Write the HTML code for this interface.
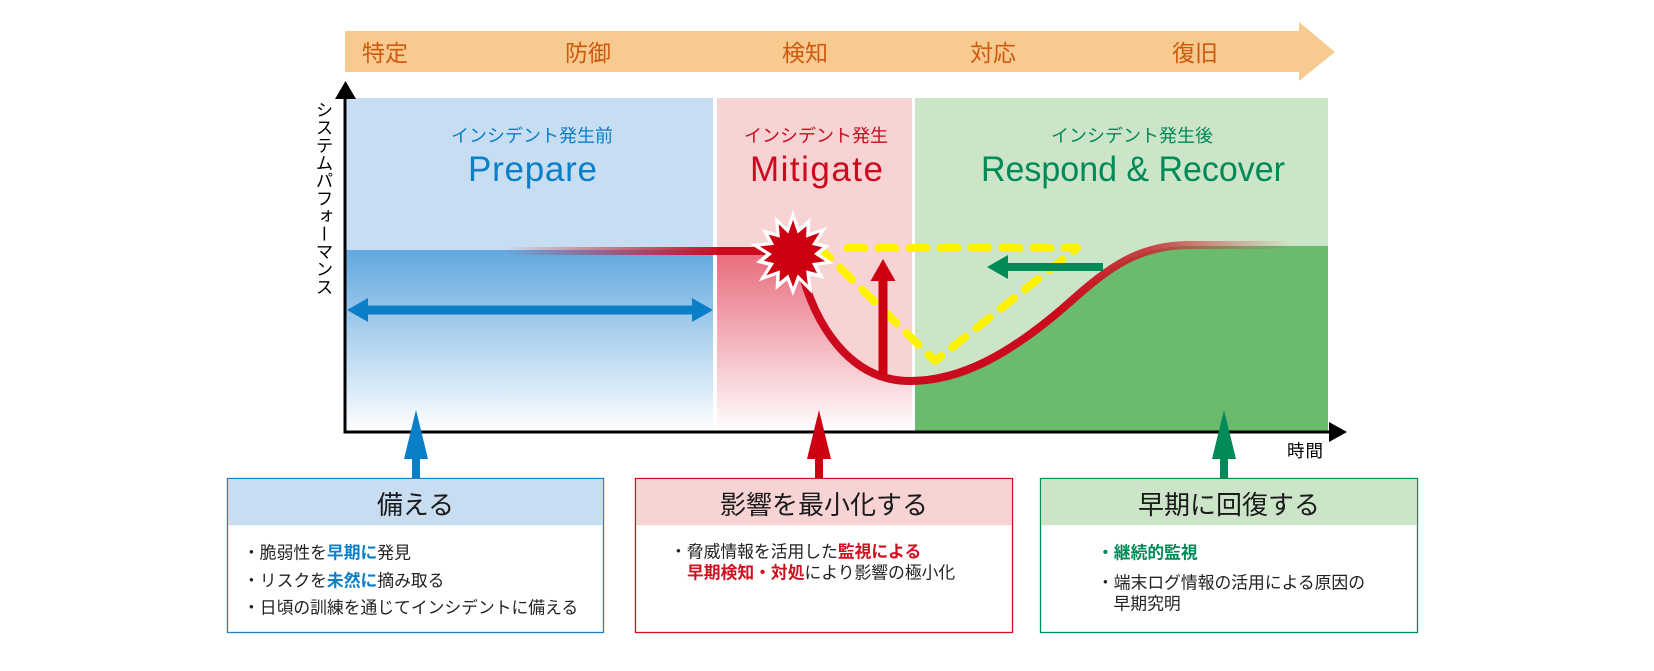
<!DOCTYPE html>
<html>
<head>
<meta charset="utf-8">
<style>
html,body{margin:0;padding:0;background:#ffffff;}
#wrap{position:relative;width:1654px;height:671px;overflow:hidden;background:#ffffff;}
svg{position:absolute;left:0;top:0;}
text{font-family:"Liberation Sans","Noto Sans CJK JP",sans-serif;}
#ylab{position:absolute;left:314px;top:101px;writing-mode:vertical-rl;font-family:"Liberation Sans","Noto Sans CJK JP",sans-serif;font-size:17.5px;line-height:19px;letter-spacing:0.2px;color:#000;white-space:nowrap;}
</style>
</head>
<body>
<div id="wrap">
<svg width="1654" height="671" viewBox="0 0 1654 671" xmlns="http://www.w3.org/2000/svg">
  <defs>
    <linearGradient id="gBlue" x1="0" y1="250" x2="0" y2="432" gradientUnits="userSpaceOnUse">
      <stop offset="0" stop-color="#62A8DF"/>
      <stop offset="1" stop-color="#FFFFFF"/>
    </linearGradient>
    <linearGradient id="gPink" x1="0" y1="250" x2="0" y2="432" gradientUnits="userSpaceOnUse">
      <stop offset="0" stop-color="#E8697A"/>
      <stop offset="1" stop-color="#FFFFFF"/>
    </linearGradient>
    <linearGradient id="gLine" x1="505" y1="0" x2="722" y2="0" gradientUnits="userSpaceOnUse">
      <stop offset="0" stop-color="#CC1030" stop-opacity="0"/>
      <stop offset="1" stop-color="#CC0A1E" stop-opacity="1"/>
    </linearGradient>
    <linearGradient id="gCurve" x1="1060" y1="0" x2="1292" y2="0" gradientUnits="userSpaceOnUse">
      <stop offset="0" stop-color="#CC0A1E" stop-opacity="1"/>
      <stop offset="0.4" stop-color="#C42A30" stop-opacity="0.85"/>
      <stop offset="1" stop-color="#C45050" stop-opacity="0"/>
    </linearGradient>
    <clipPath id="cPink"><rect x="717" y="98" width="195" height="334"/></clipPath>
    <clipPath id="cGreen"><rect x="915" y="98" width="413" height="334"/></clipPath>
  </defs>

  <!-- top banner arrow -->
  <polygon points="345,31 1299,31 1299,22 1335,52 1299,81 1299,72 345,72" fill="#F7CA8F"/>
  <g fill="#CF5A0E" font-size="23" text-anchor="middle">
    <text x="385" y="61">特定</text>
    <text x="588" y="61">防御</text>
    <text x="805" y="61">検知</text>
    <text x="993" y="61">対応</text>
    <text x="1195" y="61">復旧</text>
  </g>

  <!-- panels -->
  <rect x="346" y="98" width="367" height="334" fill="#C7DDF2"/>
  <rect x="717" y="98" width="195" height="334" fill="#F8D3D4"/>
  <rect x="915" y="98" width="413" height="334" fill="#CCE5C8"/>

  <!-- fills under performance line -->
  <rect x="346" y="250" width="367" height="182" fill="url(#gBlue)"/>
  <path clip-path="url(#cPink)" d="M 717 251 L 795 251 L 800 265 C 814 325 850 381 910 381 L 918 381 L 918 433 L 717 433 Z" fill="url(#gPink)"/>
  <path clip-path="url(#cGreen)" d="M 800 265 C 814 325 850 381 910 381 C 960 381 1010 355 1070 302 C 1110 266 1140 246 1190 246 L 1330 246 L 1330 433 L 800 433 Z" fill="#6ABB6E"/>

  <!-- panel titles -->
  <g font-size="18" text-anchor="middle">
    <text x="532" y="142" fill="#0A7FC8">インシデント発生前</text>
    <text x="816" y="142" fill="#CC0A1E">インシデント発生</text>
    <text x="1132" y="142" fill="#008A57">インシデント発生後</text>
  </g>
  <g font-size="35">
    <text x="468" y="181" fill="#0A7FC8" textLength="129" lengthAdjust="spacing">Prepare</text>
    <text x="750" y="181" fill="#CC0A1E" textLength="133" lengthAdjust="spacing">Mitigate</text>
    <text x="981" y="181" fill="#008A57" textLength="304" lengthAdjust="spacingAndGlyphs">Respond &amp; Recover</text>
  </g>

  <!-- red horizontal performance line -->
  <line x1="505" y1="251" x2="795" y2="251" stroke="url(#gLine)" stroke-width="8"/>

  <!-- yellow dashed -->
  <path d="M 818 246 L 935 361 L 1077 248 L 834 248" fill="none" stroke="#FFF200" stroke-width="8" stroke-linecap="round" stroke-linejoin="round" stroke-dasharray="17 14"/>

  <!-- red curve -->
  <path d="M 800 265 C 814 325 850 381 910 381 C 960 381 1010 355 1070 302 C 1110 266 1140 245 1190 245 L 1292 245" fill="none" stroke="url(#gCurve)" stroke-width="8"/>

  <!-- star -->
  <g transform="translate(793,254)">
    <polygon fill="#FFFFFF" points="0,-44 6,-26.3 17.4,-36 16.8,-21.1 34.4,-27.4 24.3,-11.7 37,-8.5 27,0 40.9,9.3 24.3,11.7 31.3,24.9 16.8,21.1 19.1,39.6 6,26.3 0,42 -6,26.3 -17.4,36 -16.8,21.1 -34.4,27.4 -24.3,11.7 -37,8.5 -27,0 -42.9,-9.8 -24.3,-11.7 -31.3,-24.9 -16.8,-21.1 -18.2,-37.8 -6,-26.3"/>
    <polygon fill="#CC0011" points="0,-34 4.7,-20.5 13.5,-27.9 13.1,-16.4 26.6,-21.2 18.9,-9.1 29.2,-6.7 21,0 32.2,7.3 18.9,9.1 24.2,19.3 13.1,16.4 14.8,30.6 4.7,20.5 0,33 -4.7,20.5 -13.5,27.9 -13.1,16.4 -26.6,21.2 -18.9,9.1 -29.2,6.7 -21,0 -33.1,-7.6 -18.9,-9.1 -24.2,-19.3 -13.1,-16.4 -14.3,-29.7 -4.7,-20.5"/>
  </g>

  <!-- red up arrow in mitigate -->
  <polygon points="883,259 895.5,281 870.5,281" fill="#CC0011"/>
  <rect x="878.5" y="280" width="9" height="95" fill="#CC0011"/>

  <!-- green left arrow -->
  <polygon points="987,267 1008,255 1008,279" fill="#008A57"/>
  <rect x="1007" y="263" width="96" height="8" fill="#008A57"/>

  <!-- blue double arrow -->
  <polygon points="347,310 368,298 368,322" fill="#0A7FC8"/>
  <polygon points="713,310 692,298 692,322" fill="#0A7FC8"/>
  <rect x="366" y="305.5" width="328" height="9" fill="#0A7FC8"/>

  <!-- axes -->
  <line x1="345" y1="96" x2="345" y2="433.5" stroke="#000" stroke-width="3"/>
  <polygon points="345.5,81 356,99 335,99" fill="#000"/>
  <line x1="343.5" y1="432" x2="1332" y2="432" stroke="#000" stroke-width="3"/>
  <polygon points="1347,432 1329,422 1329,442" fill="#000"/>
  <text x="1287" y="457" font-size="17.5" fill="#000" textLength="36">時間</text>

  <!-- bottom up arrows -->
  <polygon points="416,410 428,459 404,459" fill="#0A7FC8"/>
  <rect x="412" y="458" width="8" height="21" fill="#0A7FC8"/>
  <polygon points="819,410 831,459 807,459" fill="#CC0011"/>
  <rect x="815" y="458" width="8" height="21" fill="#CC0011"/>
  <polygon points="1224,410 1236,459 1212,459" fill="#008A57"/>
  <rect x="1220" y="458" width="8" height="21" fill="#008A57"/>

  <!-- boxes -->
  <rect x="227.5" y="478.5" width="376" height="154" fill="#FFFFFF" stroke="#1A82C8" stroke-width="1.3"/>
  <rect x="228.2" y="479.2" width="374.6" height="46" fill="#C8DDF1"/>
  <rect x="635.5" y="478.5" width="377" height="154" fill="#FFFFFF" stroke="#D0101F" stroke-width="1.3"/>
  <rect x="636.2" y="479.2" width="375.6" height="46" fill="#F8D3D4"/>
  <rect x="1040.5" y="478.5" width="377" height="154" fill="#FFFFFF" stroke="#008A57" stroke-width="1.3"/>
  <rect x="1041.2" y="479.2" width="375.6" height="46" fill="#CCE5C8"/>

  <g font-size="26" fill="#1a1a1a" text-anchor="middle">
    <text x="415.5" y="514">備える</text>
    <text x="824" y="514">影響を最小化する</text>
    <text x="1229" y="514">早期に回復する</text>
  </g>

  <g font-size="16.8" fill="#222">
    <text x="243" y="558.5">・脆弱性を<tspan font-weight="bold" fill="#0A7FC8">早期に</tspan>発見</text>
    <text x="243" y="586.5">・リスクを<tspan font-weight="bold" fill="#0A7FC8">未然に</tspan>摘み取る</text>
    <text x="243" y="613.5">・日頃の訓練を通じてインシデントに備える</text>

    <text x="670" y="557.5">・脅威情報を活用した<tspan font-weight="bold" fill="#D0101F">監視による</tspan></text>
    <text x="687" y="578.5"><tspan font-weight="bold" fill="#D0101F">早期検知・対処</tspan>により影響の極小化</text>

    <text x="1097" y="558.5" font-weight="bold" fill="#008A57">・継続的監視</text>
    <text x="1097" y="588.5">・端末ログ情報の活用による原因の</text>
    <text x="1113.5" y="609.5">早期究明</text>
  </g>
</svg>
<div id="ylab">システムパフォーマンス</div>
</div>
</body>
</html>
